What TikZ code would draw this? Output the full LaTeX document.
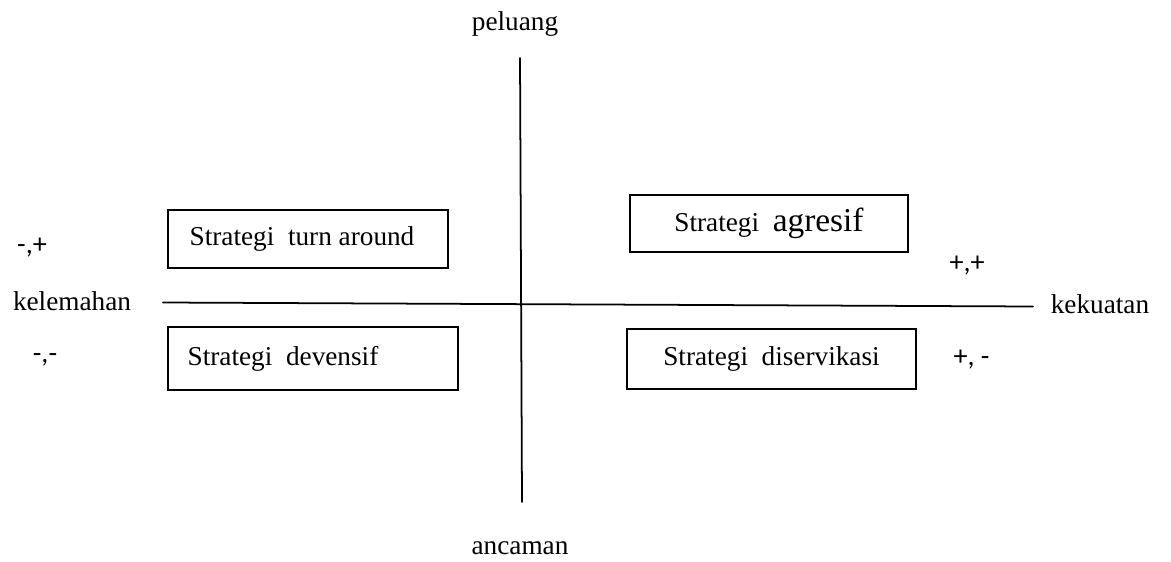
\documentclass[tikz,border=0pt]{standalone}
\usepackage{fontspec}
\setmainfont{Liberation Serif}
\newfontfamily\signfont{Carlito}
\usepackage{tikz}
\usepackage{tkz-euclide}
\usetikzlibrary{calc}
\usetikzlibrary{positioning}

\tikzset{
    strategybox/.style={draw,line width=1pt,inner sep=0pt,font=\fontsize{15.5}{18}\selectfont},
    axislabel/.style={anchor=base,font=\fontsize{15.5}{18}\selectfont},
    signlabel/.style={anchor=base,font=\signfont\fontsize{16}{18}\selectfont}
}

\begin{document}
\begin{tikzpicture}[scale=1.0]
                \useasboundingbox (0,0) rectangle (23.42,11.22);

                \tkzDefPoint(10.40,10.06){Top}
                \tkzDefPoint(10.44,1.18){Bottom}
                \tkzDefPoint(3.26,5.17){Left}
                \tkzDefPoint(20.66,5.09){Right}

                \tkzDrawSegment[line width=1pt](Top,Bottom)
                \tkzDrawSegment[line width=1pt](Left,Right)

                \node[axislabel] (peluang) at (10.30,10.60) {peluang};
                \node[axislabel] (ancaman) at (10.40,0.14) {ancaman};
                \node[axislabel] (kelemahan) at (1.44,5.02) {kelemahan};
                \node[axislabel] (kekuatan) at (22.00,4.96) {kekuatan};

                \node[strategybox,minimum width=5.60cm,minimum height=1.16cm] (turnaround) at (6.16,6.44) {Strategi\ \ turn around\kern0.24cm};
                \node[strategybox,minimum width=5.56cm,minimum height=1.14cm] (agresif) at (15.38,6.75) {Strategi\ \ {\fontsize{19}{20}\selectfont agresif}};
                \node[strategybox,minimum width=5.80cm,minimum height=1.26cm] (devensif) at (6.26,4.05) {Strategi\ \ devensif\kern1.2cm};
                \node[strategybox,minimum width=5.78cm,minimum height=1.20cm] (diservikasi) at (15.43,4.04) {Strategi\ \ diservikasi};

                \node[signlabel] (WO) at (0.64,6.16) {-,+};
                \node[signlabel] (WT) at (0.90,3.98) {-,-};
                \node[signlabel] (SO) at (19.34,5.80) {+,+};
                \node[signlabel] (ST) at (19.43,3.92) {+, -};
            \end{tikzpicture}
\end{document}
